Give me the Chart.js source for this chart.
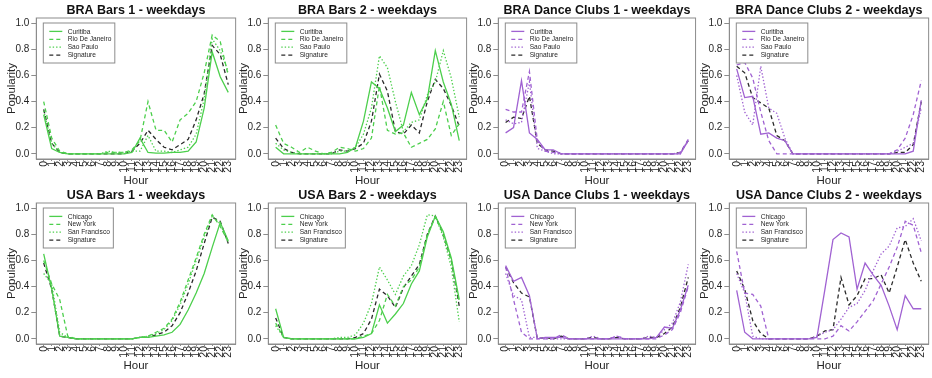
<!DOCTYPE html>
<html>
<head>
<meta charset="utf-8">
<script src="https://cdn.jsdelivr.net/npm/chart.js@4.4.1/dist/chart.umd.min.js"></script>
<style>
  html, body { margin: 0; padding: 0; background: #fff; overflow: hidden; width: 932px; height: 378px; }
  canvas { position: absolute; }
</style>
</head>
<body>
<script>
// Hour of day (x axis) and popularity ticks (y axis)
const hours = [0, 1, 2, 3, 4, 5, 6, 7, 8, 9, 10, 11, 12, 13, 14, 15, 16, 17, 18, 19, 20, 21, 22, 23];
const popularityTicks = [0, 0.2, 0.4, 0.6, 0.8, 1.0];

const braCities = ['Curitiba', 'Rio De Janeiro', 'Sao Paulo', 'Signature'];
const usaCities = ['Chicago', 'New York', 'San Francisco', 'Signature'];

// BRA Bars 1
const braBars1Curitiba  = [0.30, 0.04, 0.01, 0, 0, 0, 0, 0, 0, 0, 0, 0.01, 0.12, 0.01, 0.005, 0.005, 0.01, 0.01, 0.02, 0.09, 0.35, 0.78, 0.59, 0.47];
const braBars1Rio       = [0.40, 0.12, 0.02, 0, 0, 0, 0, 0, 0.01, 0.01, 0.01, 0.03, 0.10, 0.40, 0.18, 0.18, 0.09, 0.26, 0.31, 0.40, 0.62, 0.91, 0.86, 0.60];
const braBars1SaoPaulo  = [0.33, 0.08, 0.01, 0, 0, 0, 0, 0, 0.02, 0.01, 0.01, 0.02, 0.02, 0.14, 0.02, 0.02, 0.01, 0.03, 0.05, 0.15, 0.42, 0.88, 0.79, 0.63];
const braBars1Signature = [0.34, 0.08, 0.01, 0, 0, 0, 0, 0, 0, 0, 0, 0.02, 0.08, 0.18, 0.11, 0.05, 0.03, 0.07, 0.11, 0.26, 0.46, 0.83, 0.76, 0.53];

// BRA Bars 2
const braBars2Curitiba  = [0.05, 0, 0, 0, 0, 0, 0, 0, 0, 0.01, 0.05, 0.25, 0.55, 0.50, 0.35, 0.17, 0.22, 0.47, 0.30, 0.42, 0.79, 0.55, 0.38, 0.10];
const braBars2Rio       = [0.22, 0.08, 0.05, 0.01, 0.05, 0.02, 0, 0.01, 0.05, 0.04, 0.02, 0.04, 0.12, 0.52, 0.18, 0.15, 0.16, 0.05, 0.08, 0.11, 0.19, 0.40, 0.14, 0.23];
const braBars2SaoPaulo  = [0.08, 0.03, 0.01, 0, 0, 0, 0, 0, 0.02, 0.02, 0.05, 0.15, 0.35, 0.75, 0.66, 0.40, 0.17, 0.24, 0.26, 0.45, 0.55, 0.79, 0.58, 0.28];
const braBars2Signature = [0.12, 0.04, 0.01, 0, 0, 0, 0, 0, 0.03, 0.02, 0.04, 0.08, 0.25, 0.61, 0.48, 0.17, 0.15, 0.22, 0.16, 0.40, 0.57, 0.50, 0.37, 0.21];

// BRA Dance Clubs 1
const braClubs1Curitiba  = [0.16, 0.20, 0.56, 0.16, 0.11, 0.03, 0.03, 0, 0, 0, 0, 0, 0, 0, 0, 0, 0, 0, 0, 0, 0, 0, 0, 0.10];
const braClubs1Rio       = [0.34, 0.32, 0.32, 0.63, 0.10, 0.02, 0.01, 0, 0, 0, 0, 0, 0, 0, 0, 0, 0, 0, 0, 0, 0, 0, 0.01, 0.11];
const braClubs1SaoPaulo  = [0.26, 0.23, 0.24, 0.55, 0.04, 0.02, 0, 0, 0, 0, 0, 0, 0, 0, 0, 0, 0, 0, 0, 0, 0, 0, 0, 0.11];
const braClubs1Signature = [0.24, 0.28, 0.27, 0.44, 0.08, 0.03, 0.02, 0, 0, 0, 0, 0, 0, 0, 0, 0, 0, 0, 0, 0, 0, 0, 0.01, 0.10];

// BRA Dance Clubs 2
const braClubs2Curitiba  = [0.65, 0.43, 0.44, 0.15, 0.16, 0.12, 0.10, 0, 0, 0, 0, 0, 0, 0, 0, 0, 0, 0, 0, 0, 0, 0, 0.02, 0.41];
const braClubs2Rio       = [0.68, 0.70, 0.58, 0.32, 0.10, 0, 0, 0, 0, 0, 0, 0, 0, 0, 0, 0, 0, 0, 0, 0, 0.03, 0.12, 0.30, 0.56];
const braClubs2SaoPaulo  = [0.60, 0.32, 0.22, 0.67, 0.35, 0.31, 0.12, 0, 0, 0, 0, 0, 0, 0, 0, 0, 0, 0, 0, 0, 0.02, 0.05, 0.08, 0.35];
const braClubs2Signature = [0.67, 0.62, 0.43, 0.39, 0.35, 0.14, 0.10, 0, 0, 0, 0, 0, 0, 0, 0, 0, 0, 0, 0, 0, 0.01, 0.01, 0.07, 0.40];

// USA Bars 1
const usaBars1Chicago      = [0.65, 0.38, 0.02, 0.01, 0, 0, 0, 0, 0, 0, 0, 0, 0.01, 0.01, 0.02, 0.03, 0.05, 0.11, 0.22, 0.35, 0.50, 0.70, 0.89, 0.75];
const usaBars1NewYork      = [0.60, 0.42, 0.30, 0.02, 0, 0, 0, 0, 0, 0, 0, 0, 0.01, 0.02, 0.05, 0.08, 0.15, 0.28, 0.45, 0.62, 0.80, 0.95, 0.86, 0.74];
const usaBars1SanFrancisco = [0.50, 0.42, 0.05, 0.01, 0, 0, 0, 0, 0, 0, 0, 0, 0.01, 0.02, 0.04, 0.07, 0.14, 0.26, 0.42, 0.60, 0.78, 0.94, 0.88, 0.74];
const usaBars1Signature    = [0.58, 0.38, 0.02, 0.01, 0, 0, 0, 0, 0, 0, 0, 0, 0.01, 0.01, 0.03, 0.05, 0.10, 0.20, 0.35, 0.52, 0.73, 0.93, 0.90, 0.73];

// USA Bars 2
const usaBars2Chicago      = [0.23, 0.01, 0, 0, 0, 0, 0, 0, 0, 0, 0, 0.01, 0.04, 0.26, 0.12, 0.19, 0.27, 0.42, 0.52, 0.78, 0.94, 0.82, 0.62, 0.30];
const usaBars2NewYork      = [0.12, 0.01, 0, 0, 0, 0, 0, 0, 0, 0, 0, 0.02, 0.04, 0.14, 0.34, 0.25, 0.40, 0.45, 0.55, 0.80, 0.93, 0.80, 0.60, 0.28];
const usaBars2SanFrancisco = [0.10, 0.01, 0, 0, 0, 0, 0, 0, 0.01, 0.01, 0.03, 0.12, 0.27, 0.55, 0.45, 0.34, 0.48, 0.56, 0.72, 0.95, 0.94, 0.78, 0.55, 0.13];
const usaBars2Signature    = [0.16, 0.01, 0, 0, 0, 0, 0, 0, 0, 0, 0.01, 0.04, 0.15, 0.38, 0.33, 0.24, 0.39, 0.48, 0.57, 0.80, 0.94, 0.80, 0.60, 0.25];

// USA Dance Clubs 1
const usaClubs1Chicago      = [0.56, 0.44, 0.47, 0.33, 0, 0.01, 0.01, 0.01, 0, 0, 0, 0, 0, 0, 0, 0, 0, 0, 0, 0.01, 0.09, 0.08, 0.22, 0.41];
const usaClubs1NewYork      = [0.55, 0.30, 0.05, 0, 0, 0, 0, 0.03, 0, 0, 0, 0, 0, 0, 0.02, 0, 0, 0, 0, 0, 0.03, 0.07, 0.20, 0.40];
const usaClubs1SanFrancisco = [0.50, 0.33, 0.30, 0.01, 0.01, 0, 0, 0, 0, 0, 0, 0.02, 0, 0, 0.02, 0, 0, 0, 0.02, 0.01, 0.07, 0.12, 0.28, 0.57];
const usaClubs1Signature    = [0.55, 0.43, 0.35, 0.32, 0, 0.01, 0, 0.02, 0, 0, 0, 0.01, 0, 0, 0.01, 0, 0, 0, 0.01, 0.01, 0.04, 0.09, 0.24, 0.47];

// USA Dance Clubs 2
const usaClubs2Chicago      = [0.37, 0.05, 0, 0, 0, 0, 0, 0, 0, 0, 0.01, 0.38, 0.76, 0.81, 0.78, 0.38, 0.58, 0.49, 0.41, 0.25, 0.07, 0.33, 0.23, 0.23];
const usaClubs2NewYork      = [0.67, 0.35, 0.34, 0.25, 0, 0, 0, 0, 0, 0, 0, 0, 0.02, 0.10, 0.06, 0.13, 0.21, 0.29, 0.42, 0.55, 0.70, 0.90, 0.87, 0.66];
const usaClubs2SanFrancisco = [0.50, 0.35, 0.02, 0, 0, 0, 0, 0, 0, 0, 0.02, 0.05, 0.07, 0.15, 0.24, 0.27, 0.37, 0.52, 0.65, 0.71, 0.85, 0.86, 0.92, 0.75];
const usaClubs2Signature    = [0.52, 0.38, 0.14, 0.04, 0, 0, 0, 0, 0, 0, 0.02, 0.06, 0.07, 0.47, 0.26, 0.33, 0.46, 0.46, 0.49, 0.35, 0.55, 0.76, 0.58, 0.44];

const FONT = "'Liberation Sans', Arial, Helvetica, sans-serif";
const GREEN = '#4ccf4c';
const PURPLE = '#a062d2';
const SIGNATURE = '#2a2a2a';
const FRAME = '#8c8c8c';
const INK = '#262626';
const DASHES = [[], [4, 3], [1.4, 2], [4, 3]];

const panels = [
  { title: 'BRA Bars 1 - weekdays',        names: braCities, color: GREEN,  series: [braBars1Curitiba, braBars1Rio, braBars1SaoPaulo, braBars1Signature] },
  { title: 'BRA Bars 2 - weekdays',        names: braCities, color: GREEN,  series: [braBars2Curitiba, braBars2Rio, braBars2SaoPaulo, braBars2Signature] },
  { title: 'BRA Dance Clubs 1 - weekdays', names: braCities, color: PURPLE, series: [braClubs1Curitiba, braClubs1Rio, braClubs1SaoPaulo, braClubs1Signature] },
  { title: 'BRA Dance Clubs 2 - weekdays', names: braCities, color: PURPLE, series: [braClubs2Curitiba, braClubs2Rio, braClubs2SaoPaulo, braClubs2Signature] },
  { title: 'USA Bars 1 - weekdays',        names: usaCities, color: GREEN,  series: [usaBars1Chicago, usaBars1NewYork, usaBars1SanFrancisco, usaBars1Signature] },
  { title: 'USA Bars 2 - weekdays',        names: usaCities, color: GREEN,  series: [usaBars2Chicago, usaBars2NewYork, usaBars2SanFrancisco, usaBars2Signature] },
  { title: 'USA Dance Clubs 1 - weekdays', names: usaCities, color: PURPLE, series: [usaClubs1Chicago, usaClubs1NewYork, usaClubs1SanFrancisco, usaClubs1Signature] },
  { title: 'USA Dance Clubs 2 - weekdays', names: usaCities, color: PURPLE, series: [usaClubs2Chicago, usaClubs2NewYork, usaClubs2SanFrancisco, usaClubs2Signature] }
];

// Grid placement of the 4x2 panels
const colLeft = [0, 232, 462, 693];
const plotWidth = [200.8, 199.8, 198.8, 200.8];
const rowTop = [0, 185];
const AXIS_W = 36.3, TOP_PAD = 18, PANEL_H = 189, XAXIS_H = 30, RIGHT_PAD = 4;

// Frame box, bold title and boxed legend inside the plot region
const framePlugin = {
  id: 'frame',
  afterDatasetsDraw(chart, args, opts) {
    const { ctx, chartArea: a } = chart;
    ctx.save();
    ctx.strokeStyle = FRAME;
    ctx.lineWidth = 1;
    ctx.setLineDash([]);
    ctx.strokeRect(a.left, a.top, a.right - a.left, a.bottom - a.top);

    ctx.fillStyle = '#111';
    ctx.font = 'bold 12.5px ' + FONT;
    ctx.textAlign = 'center';
    ctx.textBaseline = 'middle';
    ctx.fillText(opts.title, (a.left + a.right) / 2, a.top - 7.5);

    const x0 = a.left + 7, y0 = a.top + 5;
    ctx.font = '6.6px ' + FONT;
    const labels = chart.data.datasets.map(d => d.label);
    const tw = Math.max(...labels.map(l => ctx.measureText(l).width));
    const w = 24.4 + tw + 3.5, h = 40;
    ctx.fillStyle = '#fff';
    ctx.fillRect(x0, y0, w, h);
    ctx.strokeStyle = FRAME;
    ctx.strokeRect(x0, y0, w, h);
    chart.data.datasets.forEach((d, i) => {
      const y = y0 + 8.4 + 7.9 * i;
      ctx.strokeStyle = d.borderColor;
      ctx.lineWidth = d.borderWidth;
      ctx.setLineDash(d.borderDash);
      ctx.beginPath();
      ctx.moveTo(x0 + 6, y);
      ctx.lineTo(x0 + 19, y);
      ctx.stroke();
      ctx.setLineDash([]);
      ctx.fillStyle = INK;
      ctx.textAlign = 'left';
      ctx.fillText(d.label, x0 + 24.4, y + 0.3);
    });
    ctx.restore();
  }
};

panels.forEach((p, idx) => {
  const col = idx % 4, row = Math.floor(idx / 4);
  const width = Math.round(AXIS_W + plotWidth[col] + RIGHT_PAD);
  const rightPad = width - AXIS_W - plotWidth[col];
  const canvas = document.createElement('canvas');
  canvas.width = width;
  canvas.height = PANEL_H;
  canvas.style.left = colLeft[col] + 'px';
  canvas.style.top = rowTop[row] + 'px';
  canvas.style.width = width + 'px';
  canvas.style.height = PANEL_H + 'px';
  document.body.appendChild(canvas);

  new Chart(canvas, {
    type: 'line',
    data: {
      datasets: p.series.map((vals, i) => ({
        label: p.names[i],
        data: vals.map((v, j) => ({ x: hours[j], y: v })),
        borderColor: i === 3 ? SIGNATURE : p.color,
        borderDash: DASHES[i],
        borderWidth: 1.3,
        pointRadius: 0,
        tension: 0,
        fill: false
      }))
    },
    options: {
      responsive: false,
      animation: false,
      devicePixelRatio: 1,
      events: [],
      layout: { padding: { top: TOP_PAD, right: rightPad, left: 0, bottom: 0 } },
      plugins: {
        legend: { display: false },
        title: { display: false },
        tooltip: { enabled: false },
        frame: { title: p.title }
      },
      scales: {
        x: {
          type: 'linear',
          min: -0.92,
          max: 23.92,
          afterBuildTicks: s => { s.ticks = hours.map(v => ({ value: v })); },
          afterFit: s => { s.height = XAXIS_H; },
          ticks: {
            autoSkip: false, minRotation: 90, maxRotation: 90, padding: 0,
            color: INK, font: { family: FONT, size: 10.5 },
            callback: v => String(v)
          },
          grid: { display: true, drawOnChartArea: false, drawTicks: true, tickLength: 2, color: FRAME },
          border: { display: true, color: FRAME },
          title: { display: true, text: 'Hour', color: INK, font: { family: FONT, size: 11.5 }, padding: { top: 0, bottom: 1.5 } }
        },
        y: {
          type: 'linear',
          min: -0.04,
          max: 1.04,
          afterBuildTicks: s => { s.ticks = popularityTicks.map(v => ({ value: v })); },
          afterFit: s => { s.width = AXIS_W; },
          ticks: {
            padding: 2, color: INK, font: { family: FONT, size: 10 },
            callback: v => v.toFixed(1)
          },
          grid: { display: true, drawOnChartArea: false, drawTicks: true, tickLength: 5, color: FRAME },
          border: { display: true, color: FRAME },
          title: { display: true, text: 'Popularity', color: INK, font: { family: FONT, size: 11.5 }, padding: { top: 5, bottom: 0 } }
        }
      }
    },
    plugins: [framePlugin]
  });
});
</script>
</body>
</html>
